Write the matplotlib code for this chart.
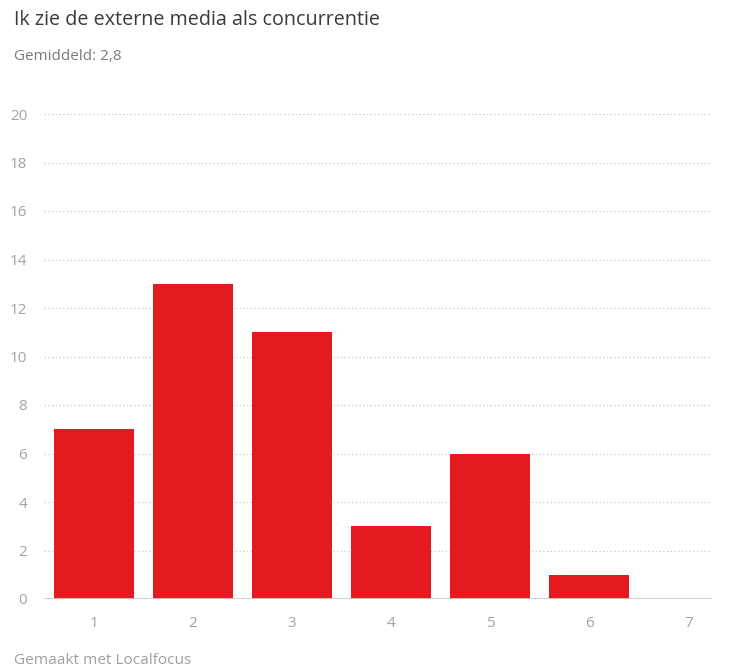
import matplotlib.pyplot as plt

plt.rcParams["font.family"] = ["Open Sans", "DejaVu Sans"]

categories = [1, 2, 3, 4, 5, 6, 7]
counts = [7, 13, 11, 3, 6, 1, 0]
y_ticks = [0, 2, 4, 6, 8, 10, 12, 14, 16, 18, 20]

title = "Ik zie de externe media als concurrentie"
subtitle = "Gemiddeld: 2,8"
footer = "Gemaakt met Localfocus"

W, H = 730, 671
fig = plt.figure(figsize=(W / 100, H / 100), dpi=100)
ax = fig.add_axes([44 / W, 72 / H, (712 - 44) / W, (599 - 114) / H])

ax.bar(categories, counts, width=0.81, color="#e31b1e", zorder=3)

ax.set_xlim(0.495, 7.24)
ax.set_ylim(0, 20)
ax.set_yticks(y_ticks)
ax.set_xticks(categories)
ax.grid(axis="y", color="#c8c8c8", linestyle=(0, (1, 2)), linewidth=0.9, zorder=0)
ax.axhline(0, color="#cccccc", linewidth=2, zorder=4)

for side in ["top", "right", "left", "bottom"]:
    ax.spines[side].set_visible(False)
ax.tick_params(axis="both", length=0, labelsize=11, labelcolor="#a3a3a3")
ax.tick_params(axis="y", pad=12)
ax.tick_params(axis="x", pad=12)

fig.text(14 / W, 1 - 20 / H, title, fontsize=14.2, color="#3a3a3a", va="center", ha="left")
fig.text(14 / W, 1 - 57 / H, subtitle, fontsize=11, color="#7a7a7a", va="center", ha="left")
fig.text(14 / W, 1 - 660 / H, footer, fontsize=11.1, color="#a0a0a0", va="center", ha="left")

fig.savefig("out.png", dpi=100)
